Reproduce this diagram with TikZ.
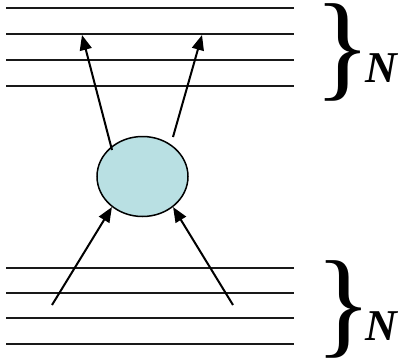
\documentclass[tikz,border=0pt]{standalone}
\usepackage{fontspec}
\newfontfamily\tnr{Liberation Serif}
\usetikzlibrary{arrows.meta,shapes.geometric}
\definecolor{cellblue}{HTML}{B9E0E3}
\tikzset{
  level/.style={line width=1.8pt, black!90},
  arr/.style={line width=2pt, -{Triangle[length=15pt,width=12pt]}},
  bracelbl/.style={inner sep=0pt, font=\tnr\fontsize{118}{118}\selectfont},
  nlbl/.style={inner sep=0pt, anchor=base west, font=\tnr\bfseries\itshape\fontsize{44}{44}\selectfont}
}
\begin{document}
\begin{tikzpicture}[x=1pt,y=-1pt]
\useasboundingbox (0,0) rectangle (407,362);
% energy levels
\foreach \yy in {8,34,60,86,268,293,318,344}{
  \draw[level] (6,\yy) -- (294,\yy);
}
% ellipse
\node[ellipse, draw, line width=1.5pt, fill=cellblue, minimum width=91pt, minimum height=80pt, inner sep=0pt] (el) at (142.5,176.5) {};
% coordinates
\coordinate (tl) at (112,150);
\coordinate (tr) at (173,137);
\coordinate (tlt) at (82,35);
\coordinate (trt) at (202,35);
\coordinate (bl) at (52,305);
\coordinate (br) at (233,305);
% arrows
\draw[arr] (tl) -- (tlt);
\draw[arr] (tr) -- (trt);
\draw[arr] (bl) -- (el.225);
\draw[arr] (br) -- (el.315);
% braces and labels
\node[bracelbl] (b1) at (342.5,52) {\makebox[26pt]{\}}};
\node[bracelbl] (b2) at (343.5,309) {\makebox[26pt]{\}}};
\node[nlbl] (n1) at (365,82) {N};
\node[nlbl] (n2) at (365,340) {N};
\end{tikzpicture}
\end{document}
